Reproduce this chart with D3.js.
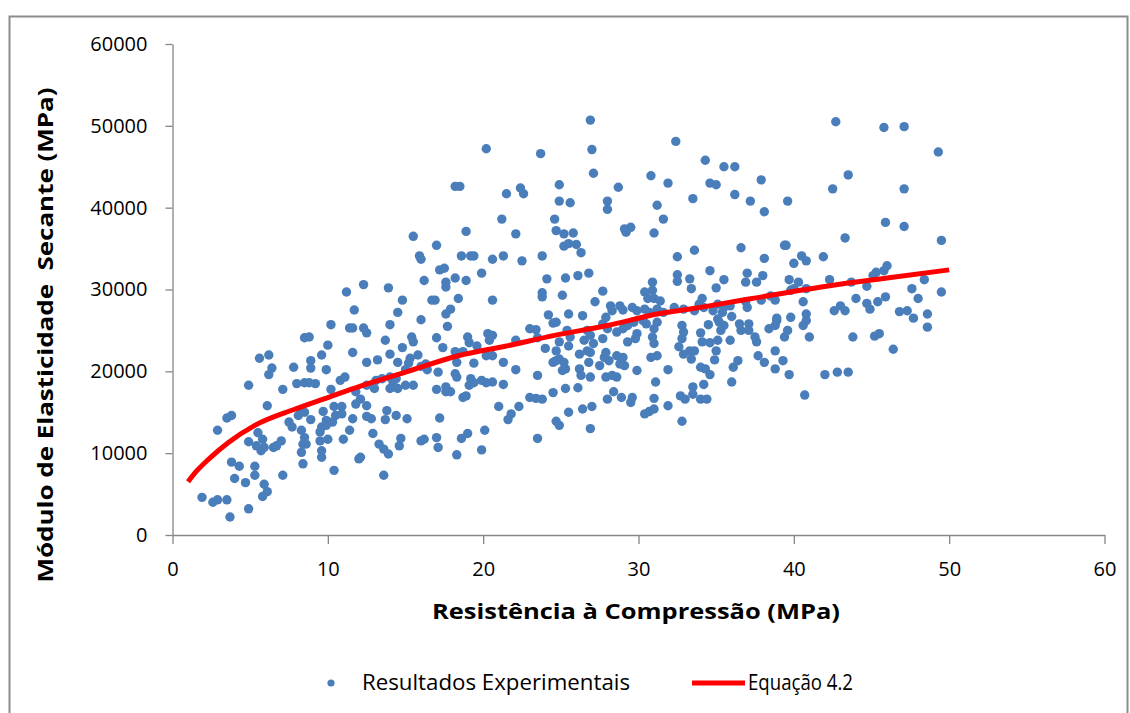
<!DOCTYPE html>
<html>
<head>
  <meta charset="utf-8">
  <script src="https://d3js.org/d3.v7.min.js"></script>
  <title>Módulo de Elasticidade x Resistência</title>
  <style>
    body { margin: 0; background: #fff; }
    .axis path, .axis line { stroke: #868686; stroke-width: 1.3; }
    .axis text { font-family: "Open Sans", sans-serif; font-size: 20px; fill: #000; }
    .title { font-family: "Open Sans", sans-serif; font-size: 22px; font-weight: bold; fill: #000; }
    .legend text { font-family: "Open Sans", sans-serif; font-size: 21px; fill: #000; }
  </style>
</head>
<body>
<svg width="1130" height="713"></svg>
<script>
// ticks
var xTicks = [0, 10, 20, 30, 40, 50, 60];
var yTicks = [0, 10000, 20000, 30000, 40000, 50000, 60000];

// Resultados Experimentais : [fc (MPa), E (MPa)]
var experimentais = [
  [12.3,30600],[11.2,29700],[11.7,27500],[10.2,25700],[11.4,25300],[11.6,25300],[12.3,25300],[12.5,24700],[8.5,24100],[8.8,24200],
  [10.0,23200],[6.2,22000],[5.6,21600],[9.6,22000],[11.6,22300],[8.9,21300],[12.5,21100],[6.4,20400],[6.2,19600],[7.8,20500],
  [8.9,20400],[9.9,20200],[11.1,19300],[10.8,18900],[4.9,18300],[7.1,17800],[8.0,18500],[8.5,18600],[8.8,18600],[9.2,18500],
  [10.2,17800],[11.8,17500],[12.5,18300],[12.1,16600],[11.8,16000],[12.5,15800],[6.1,15800],[3.8,14600],[3.5,14300],[2.9,12800],
  [8.3,15200],[8.1,14600],[8.5,15000],[9.7,15100],[10.4,15700],[10.9,15700],[10.9,14800],[10.5,14600],[8.9,14100],[7.5,13800],
  [7.7,13200],[9.9,14000],[10.3,13800],[9.6,13200],[9.9,13400],[11.6,14200],[11.4,12800],[12.5,14500],[5.5,12500],[5.8,11700],
  [4.9,11400],[5.4,10900],[5.7,10300],[5.9,10700],[7.0,11500],[6.7,10900],[6.5,10700],[8.3,12800],[8.5,11900],[8.4,11100],
  [8.6,11100],[8.3,10100],[9.5,12600],[9.5,11500],[9.6,10300],[9.6,9500],[10.0,11700],[11.0,11700],[12.0,9300],[12.1,9500],
  [8.4,8700],[3.8,8900],[4.3,8400],[5.3,8400],[5.3,7300],[7.1,7300],[10.4,7900],[4.0,6900],[4.7,6400],[5.9,6200],
  [6.1,5300],[5.8,4700],[1.9,4600],[2.6,4000],[2.9,4300],[3.5,4300],[4.9,3200],[3.7,2200],
  [15.5,36500],[17.0,35400],[18.9,37100],[21.2,38600],[22.1,36800],[24.6,38600],[24.7,37200],[15.9,34100],[16.0,33700],[18.6,34100],
  [19.2,34100],[19.4,34100],[20.6,33700],[21.3,34100],[22.5,33500],[23.8,34100],[17.2,32400],[17.5,32600],[19.9,32000],[16.2,31100],
  [17.6,30900],[17.6,30300],[18.2,31400],[18.9,31100],[24.1,31300],[13.9,30200],[23.8,29600],[23.8,29100],[14.8,28700],[16.7,28700],
  [16.9,28700],[18.4,28900],[20.6,28700],[14.5,27200],[17.9,27600],[17.6,27000],[24.2,26900],[14.0,25700],[16.0,26300],[17.7,25500],
  [24.5,25900],[24.7,26000],[23.0,25200],[23.4,25100],[20.3,24600],[20.6,24400],[20.4,23800],[15.4,24200],[15.5,23600],[17.0,24100],
  [13.7,23800],[19.0,24200],[19.1,23500],[19.6,23100],[22.1,23800],[23.5,24100],[14.8,22900],[17.4,22900],[24.0,22800],[24.7,22500],
  [14.0,22100],[15.8,22000],[15.3,21600],[15.2,21000],[18.2,22400],[18.7,22400],[18.3,21100],[20.2,21900],[20.6,21900],[21.3,21100],
  [13.2,21400],[14.5,21100],[16.3,20900],[16.0,20600],[16.4,20200],[17.1,19900],[19.4,21000],[24.5,21100],[24.7,21300],[22.1,20200],
  [15.0,20200],[13.1,18900],[13.5,19100],[14.0,19300],[14.2,18700],[14.4,19100],[14.2,18100],[14.0,17900],[14.5,17900],[13.0,17900],
  [15.0,18300],[15.5,18300],[17.0,17800],[17.6,18100],[17.9,17500],[17.6,17500],[18.2,19700],[18.3,19300],[19.2,19100],[19.1,18300],
  [19.4,18600],[19.9,18900],[20.2,18600],[20.6,18700],[21.3,18400],[18.7,16800],[18.9,17000],[23.0,16800],[23.4,16700],[23.8,16600],
  [23.5,19500],[24.5,17400],[21.0,15700],[22.3,15700],[21.8,14800],[21.6,14100],[13.8,15200],[14.4,14600],[13.7,14100],[12.8,14200],
  [15.1,14200],[17.2,14300],[24.7,13900],[12.9,12400],[13.3,11100],[13.6,10500],[13.9,9900],[14.7,11800],[14.6,10900],[16.0,11500],
  [16.2,11700],[17.0,11900],[17.1,10700],[18.6,11800],[19.0,12400],[20.1,12800],[23.5,11800],[18.3,9800],[19.9,10400],[13.6,7300],
  [20.2,47200],[23.7,46600],[18.2,42600],[18.5,42600],[21.5,41700],[22.4,42400],[22.6,41700],
  [26.9,50700],[27.0,47100],[32.4,48100],[27.1,44200],[30.8,43900],[31.9,43000],[24.9,42800],[28.7,42500],[24.9,40800],[25.6,40600],
  [28.0,40800],[28.0,39800],[31.2,40300],[33.5,41100],[31.6,38600],[29.1,37400],[29.5,37600],[29.2,37000],[31.0,36900],[25.2,36800],
  [25.8,36900],[25.2,35300],[25.5,35600],[26.0,35500],[26.3,34500],[33.6,34800],[32.5,34000],[25.3,31400],[26.1,31700],[26.8,32000],
  [32.5,31800],[32.5,31000],[33.3,31300],[33.4,30100],[25.1,29300],[27.7,29800],[27.2,28500],[30.9,30900],[30.4,29700],[30.9,29900],
  [31.0,28900],[30.6,28900],[31.4,28600],[28.2,28000],[28.8,28000],[29.0,27500],[28.3,27400],[29.6,27800],[29.9,27400],[30.4,27600],
  [30.7,27200],[31.2,27600],[31.6,27200],[32.3,27800],[32.9,27600],[33.6,27400],[25.5,27000],[26.4,26800],[27.9,26600],
  [25.4,25000],[25.6,24200],[24.9,23600],[25.5,23100],[26.7,25000],[26.9,24400],[26.5,23800],[27.1,23400],[27.7,24000],[28.0,25200],
  [27.7,25800],[28.6,24800],[29.0,25200],[29.3,25600],[29.7,26000],[30.3,26200],[30.5,25800],[29.9,24600],[29.8,24000],[29.3,23600],
  [31.0,25200],[30.9,24200],[31.0,23400],[31.2,26000],[32.8,25600],[32.9,24800],[32.8,24000],[32.6,23000],[33.3,22500],[33.6,22500],
  [33.4,21500],[32.9,22100],[24.9,21500],[25.2,21100],[25.1,20100],[25.3,20300],[26.2,22100],[26.7,22500],[26.9,22300],[27.9,22300],
  [27.8,21700],[28.1,21300],[27.5,20700],[26.8,21100],[28.6,21900],[29.0,21700],[28.8,20900],[29.1,20700],[30.8,21700],[31.2,21900],
  [26.2,20300],[26.3,19500],[26.9,19300],[27.9,19300],[28.3,19500],[28.6,19300],[29.9,20100],[31.9,20200],[31.1,18700],[25.3,17900],
  [26.1,18000],[28.4,17500],[28.9,16800],[28.0,16600],[29.6,16800],[29.5,16200],[31.0,16700],[32.7,17000],[33.0,16600],[33.5,17200],
  [33.5,18100],[26.4,15400],[27.0,15700],[25.5,15000],[30.4,14800],[30.7,15100],[31.0,15400],[31.9,15800],[24.9,13400],[26.9,13000],
  [32.8,13900],
  [34.3,45800],[35.5,45000],[36.2,45000],[34.6,43000],[35.0,42800],[37.9,43400],[36.2,41600],[37.2,40800],[38.1,39500],[39.6,40800],
  [36.6,35100],[39.5,35400],[39.4,35400],[38.1,33800],[40.5,34100],[40.8,33500],[41.9,34000],[40.0,33200],[34.6,32300],[35.5,31200],
  [37.0,32000],[36.9,30900],[37.6,30900],[38.0,31700],[35.0,30200],[39.7,31200],[40.3,30900],[40.0,30100],[39.8,29900],[40.8,30100],
  [34.1,28900],[33.9,28200],[34.2,27800],[35.1,28200],[35.5,27800],[35.9,28000],[34.8,27400],[35.4,27200],[36.9,28500],[37.0,27800],
  [37.9,28700],[38.5,29200],[38.8,28700],[40.6,28500],[40.8,27000],[39.8,26600],[38.9,26500],[36.0,26700],[35.1,26400],
  [34.5,25700],[35.2,26000],[35.5,25600],[35.3,25000],[36.5,25800],[36.6,25000],[37.1,25800],[37.1,25000],[38.4,25200],[38.8,25600],
  [38.9,26200],[39.6,25000],[39.4,24200],[40.6,25600],[40.8,26200],[41.0,24200],[34.0,24700],[34.1,23600],[34.6,23500],[35.1,23800],
  [35.9,23800],[37.5,24200],[37.6,23600],[35.0,22500],[34.9,21400],[34.0,20500],[34.3,20300],[34.6,19600],[34.2,18400],[36.1,20500],
  [36.4,21300],[37.7,21900],[38.1,21100],[38.8,22500],[39.3,21300],[38.8,20300],[39.7,19600],[36.0,18700],[34.0,16600],[34.4,16600],
  [40.7,17100],[42.0,19600],
  [42.7,50500],[45.8,49800],[47.1,49900],[49.3,46800],[43.5,44000],[42.5,42300],[47.1,42300],[45.9,38200],[47.1,37700],[43.3,36300],
  [49.5,36000],[42.3,31200],[43.7,30900],[44.7,30400],[45.1,31700],[45.3,32100],[45.8,32300],[46.0,32900],[48.4,31200],[47.6,30100],
  [49.5,29700],[44.0,28900],[44.7,28300],[45.4,28500],[45.9,29100],[48.0,28900],[43.0,28000],[42.6,27400],[43.3,27400],[44.9,27600],
  [46.8,27300],[47.3,27400],[48.6,27000],[47.7,26500],
  [48.6,25400],[43.8,24200],[45.2,24300],[45.5,24600],[46.4,22700],[42.8,19900],[43.5,19900]
];

// Equação 4.2
var equacaoFc = [1, 1.5, 2.35, 3.6, 5.3, 7.9, 10, 12.1, 15, 18.4, 21.5, 24.6, 28, 31.2, 33.6, 37, 42.1, 46, 50];
var equacaoE  = [6500, 7700, 9300, 11300, 13400, 15400, 16800, 18200, 19900, 21900, 23100, 24400, 25600, 27000, 27700, 28800, 30400, 31400, 32400];

var legendLabels = ["Resultados Experimentais", "Equação 4.2"];

var svg = d3.select("svg"),
    margin = {top: 44, left: 172.5},
    width = 932,
    height = 491;

// chart frame
svg.append("rect")
  .attr("x", 9.5).attr("y", 16.5)
  .attr("width", 1118).attr("height", 710)
  .attr("fill", "none")
  .attr("stroke", "#8c8c8c")
  .attr("stroke-width", 2);

var g = svg.append("g").attr("transform", "translate(" + margin.left + "," + margin.top + ")");

var x = d3.scaleLinear().domain([0, 60]).range([0, width]);
var y = d3.scaleLinear().domain([0, 60000]).range([height, 0]);

// axes
g.append("g")
  .attr("class", "axis")
  .call(d3.axisLeft(y).tickValues(yTicks).tickSize(7).tickSizeOuter(0).tickPadding(18).tickFormat(d3.format("d")));

g.append("g")
  .attr("class", "axis")
  .attr("transform", "translate(0," + height + ")")
  .call(d3.axisBottom(x).tickValues(xTicks).tickSize(9).tickSizeOuter(0).tickPadding(18).tickFormat(d3.format("d")));

// scatter
g.append("g")
  .selectAll("circle")
  .data(experimentais)
  .enter().append("circle")
    .attr("cx", function(d) { return x(d[0]); })
    .attr("cy", function(d) { return y(d[1]); })
    .attr("r", 4.7)
    .attr("fill", "#4a7ebb");

// equation curve
var curve = equacaoFc.map(function(v, i) { return [v, equacaoE[i]]; });
g.append("path")
  .datum(curve)
  .attr("fill", "none")
  .attr("stroke", "#ff0000")
  .attr("stroke-width", 5)
  .attr("d", d3.line()
    .curve(d3.curveMonotoneX)
    .x(function(d) { return x(d[0]); })
    .y(function(d) { return y(d[1]); }));

// axis titles
svg.append("text")
  .attr("class", "title")
  .attr("x", 636).attr("y", 619)
  .attr("text-anchor", "middle")
  .attr("textLength", 408).attr("lengthAdjust", "spacingAndGlyphs")
  .text("Resistência à Compressão (MPa)");

svg.append("text")
  .attr("class", "title")
  .attr("transform", "translate(53,335) rotate(-90)")
  .attr("text-anchor", "middle")
  .attr("textLength", 495).attr("lengthAdjust", "spacingAndGlyphs")
  .style("white-space", "pre")
  .text("Módulo de Elasticidade  Secante (MPa)");

// legend
var legend = svg.append("g").attr("class", "legend");
legend.append("circle")
  .attr("cx", 331).attr("cy", 683).attr("r", 3.6)
  .attr("fill", "#4a7ebb");
legend.append("text")
  .attr("x", 362).attr("y", 690)
  .attr("textLength", 268).attr("lengthAdjust", "spacingAndGlyphs")
  .text(legendLabels[0]);
legend.append("line")
  .attr("x1", 692).attr("x2", 745).attr("y1", 683).attr("y2", 683)
  .attr("stroke", "#ff0000").attr("stroke-width", 5);
legend.append("text")
  .attr("x", 748).attr("y", 690)
  .attr("textLength", 105).attr("lengthAdjust", "spacingAndGlyphs")
  .text(legendLabels[1]);
</script>
</body>
</html>
